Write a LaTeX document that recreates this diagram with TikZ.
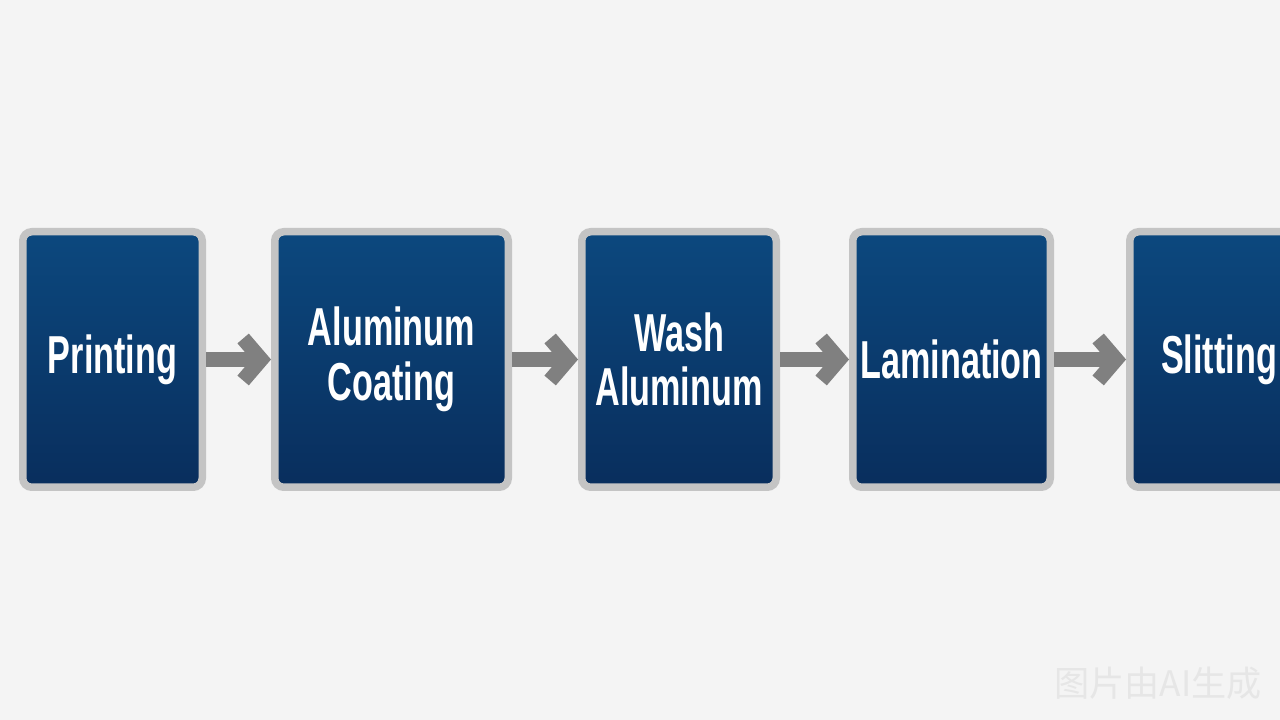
\documentclass[tikz,border=0pt]{standalone}
\usepackage{fontspec}
\newfontfamily\stagefont{Liberation Sans}[FakeStretch=0.64]
\newfontfamily\markfont{Noto Sans CJK SC}
\usepackage{tikz}
\usetikzlibrary{arrows.meta}
\definecolor{stagetop}{RGB}{12,72,126}
\definecolor{stagebottom}{RGB}{9,46,93}
\definecolor{stagerim}{RGB}{196,196,196}
\definecolor{flowgrey}{RGB}{128,128,128}
\definecolor{paper}{RGB}{244,244,244}
\definecolor{markgrey}{RGB}{230,230,230}
\tikzstyle{stage}=[draw=stagerim, line width=0.075cm, rounded corners=0.09cm, top color=stagetop, bottom color=stagebottom, minimum height=2.555cm, inner sep=0pt, align=center, text=white, font=\stagefont\bfseries\fontsize{15.2}{15.6}\selectfont]
\tikzstyle{flow}=[draw=flowgrey, line width=0.15cm, -{Straight Barb[length=0.18cm,width=0.42cm]}]

\begin{document}
\begin{tikzpicture}
	\clip (0,0) rectangle (12.8,7.2);
	\fill[paper] (0,0) rectangle (12.8,7.2);
	\node[stage, minimum width=1.795cm] (print) at (1.125,3.605) {Printing};
	\node[stage, minimum width=2.335cm] (coat) at (3.915,3.605) {Aluminum\\Coating};
	\node[stage, minimum width=1.945cm] (wash) at (6.79,3.605) {Wash\\Aluminum};
	\node[stage, minimum width=1.975cm] (lam) at (9.515,3.605) {Lamination};
	\node[stage, minimum width=1.785cm] (slit) at (12.19,3.605) {Slitting};
	\foreach \from/\to in {print/coat,coat/wash,wash/lam,lam/slit}
		\draw[flow] (\from.east) -- (\to.west);
	\node[text=markgrey, font=\markfont\fontsize{10}{12}\selectfont] (mark) at (11.58,0.365) {图片由AI生成};
\end{tikzpicture}
\end{document}
